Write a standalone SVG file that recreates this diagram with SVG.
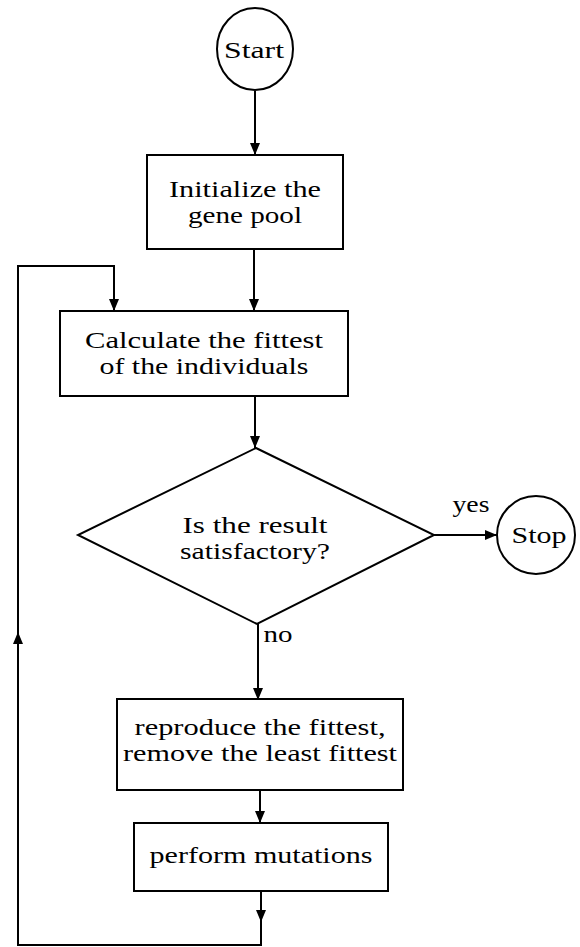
<svg xmlns="http://www.w3.org/2000/svg" width="580" height="947" viewBox="0 0 580 947">
<style>
.s{fill:none;stroke:#000;stroke-width:2}
.n{fill:#fff;stroke:#000;stroke-width:2}
text{font-family:"Liberation Serif","Times New Roman",serif;font-size:23px;fill:#000;text-anchor:middle}
</style>
<defs>
<marker id="ah" viewBox="0 0 12 10" refX="12" refY="5" markerWidth="12" markerHeight="10" markerUnits="userSpaceOnUse" orient="auto">
<path d="M0,0 L12,5 L0,10 Z" fill="#000"/>
</marker>
</defs>
<rect width="580" height="947" fill="#fff"/>
<g id="connectors">
<line class="s" x1="255" y1="91" x2="255" y2="155" marker-end="url(#ah)"/>
<line class="s" x1="254" y1="249" x2="254" y2="311" marker-end="url(#ah)"/>
<line class="s" x1="255" y1="396" x2="255" y2="448" marker-end="url(#ah)"/>
<line class="s" x1="434" y1="535" x2="497" y2="535" marker-end="url(#ah)"/>
<line class="s" x1="258" y1="624" x2="258" y2="700" marker-end="url(#ah)"/>
<line class="s" x1="260" y1="790" x2="260" y2="823" marker-end="url(#ah)"/>
<line class="s" x1="261" y1="891" x2="261" y2="922" marker-end="url(#ah)"/>
<polyline class="s" points="261,920 261,945 18,945 18,266 114,266 114,311" marker-end="url(#ah)"/>
<line class="s" x1="18" y1="700" x2="18" y2="632" marker-end="url(#ah)"/>
<text x="471" y="512" textLength="37" lengthAdjust="spacingAndGlyphs">yes</text>
<text x="278" y="642" textLength="29" lengthAdjust="spacingAndGlyphs">no</text>
</g>
<g id="start">
<ellipse class="n" cx="255" cy="49" rx="38" ry="41"/>
<text x="254" y="58" textLength="60" lengthAdjust="spacingAndGlyphs">Start</text>
</g>
<g id="init">
<rect class="n" x="147" y="155" width="196" height="94"/>
<text x="245" y="197"><tspan x="245" textLength="152" lengthAdjust="spacingAndGlyphs">Initialize the</tspan><tspan x="245" dy="26" textLength="114" lengthAdjust="spacingAndGlyphs">gene pool</tspan></text>
</g>
<g id="calc">
<rect class="n" x="60" y="311" width="288" height="85"/>
<text x="204" y="348"><tspan x="204" textLength="238" lengthAdjust="spacingAndGlyphs">Calculate the fittest</tspan><tspan x="204" dy="26" textLength="209" lengthAdjust="spacingAndGlyphs">of the individuals</tspan></text>
</g>
<g id="decision">
<polygon class="n" points="256,448 434,535 257,624 78,535"/>
<text x="255" y="533"><tspan x="255" textLength="145" lengthAdjust="spacingAndGlyphs">Is the result</tspan><tspan x="255" dy="26" textLength="150" lengthAdjust="spacingAndGlyphs">satisfactory?</tspan></text>
</g>
<g id="stop">
<circle class="n" cx="536" cy="535" r="39"/>
<text x="539" y="543" textLength="55" lengthAdjust="spacingAndGlyphs">Stop</text>
</g>
<g id="reproduce">
<rect class="n" x="117" y="699" width="286" height="91"/>
<text x="260" y="735"><tspan x="260" textLength="251" lengthAdjust="spacingAndGlyphs">reproduce the fittest,</tspan><tspan x="260" dy="26" textLength="274" lengthAdjust="spacingAndGlyphs">remove the least fittest</tspan></text>
</g>
<g id="mutate">
<rect class="n" x="134" y="823" width="254" height="68"/>
<text x="261" y="863" textLength="223" lengthAdjust="spacingAndGlyphs">perform mutations</text>
</g>
</svg>
